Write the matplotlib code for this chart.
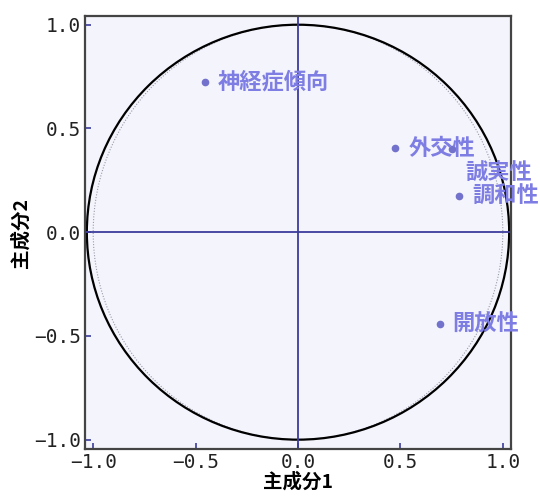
import matplotlib
matplotlib.use("Agg")
import matplotlib.pyplot as plt
import numpy as np
from matplotlib.patches import Ellipse, Circle

# Data
labels = ["神経症傾向", "外交性", "誠実性", "調和性", "開放性"]
pc1 = [-0.453, 0.475, 0.752, 0.788, 0.695]
pc2 = [0.726, 0.405, 0.399, 0.175, -0.444]
label_offsets = [(13, 0), (13, 0), (13, -23), (13, 0), (12, 0)]  # pixel offsets for text
ticks = [-1.0, -0.5, 0.0, 0.5, 1.0]
tick_labels = ["−1.0", "−0.5", "0.0", "0.5", "1.0"]

fig = plt.figure(figsize=(5.40, 4.96), dpi=100)
ax = fig.add_axes([85/540, 47/496, 426/540, 433/496])
ax.set_facecolor("#f4f4fc")

ax.set_xlim(-1.04, 1.04)
ax.set_ylim(-1.045, 1.042)

# unit circle (dotted) and solid outline
ax.add_patch(Circle((0, 0), 1.0, fill=False, ls=(0, (1, 1.5)), lw=0.8, ec="#9a9aa8"))
ax.add_patch(Ellipse((0, 0), 2.062, 2.0, fill=False, lw=1.6, ec="black"))

ax.axhline(0, color="#3c3c9c", lw=1.3)
ax.axvline(0, color="#3c3c9c", lw=1.3)

ax.plot(pc1, pc2, "o", color="#7272cc", ms=4.5, zorder=5)
for x, y, t, off in zip(pc1, pc2, labels, label_offsets):
    ax.annotate(t, (x, y), xytext=off, textcoords="offset pixels",
                ha="left", va="center", fontsize=16, fontweight="bold",
                color="#7d7de3", family=["Noto Sans CJK JP", "DejaVu Sans"], zorder=6)

ax.set_xticks(ticks)
ax.set_yticks(ticks)
ax.set_xticklabels(tick_labels, family="DejaVu Sans Mono", fontsize=14, color="#222222")
ax.set_yticklabels(tick_labels, family="DejaVu Sans Mono", fontsize=14, color="#222222")
ax.tick_params(direction="in", length=4, width=1.2, color="#3c3c9c", pad=3)

for s in ax.spines.values():
    s.set_color("#444444")
    s.set_linewidth(1.6)

ax.set_xlabel("主成分1", family=["Noto Sans CJK JP", "DejaVu Sans"], fontsize=14,
              fontweight="bold", labelpad=0)
ax.set_ylabel("主成分2", family=["Noto Sans CJK JP", "DejaVu Sans"], fontsize=14,
              fontweight="bold", labelpad=2)

fig.savefig("out.png", dpi=100)
